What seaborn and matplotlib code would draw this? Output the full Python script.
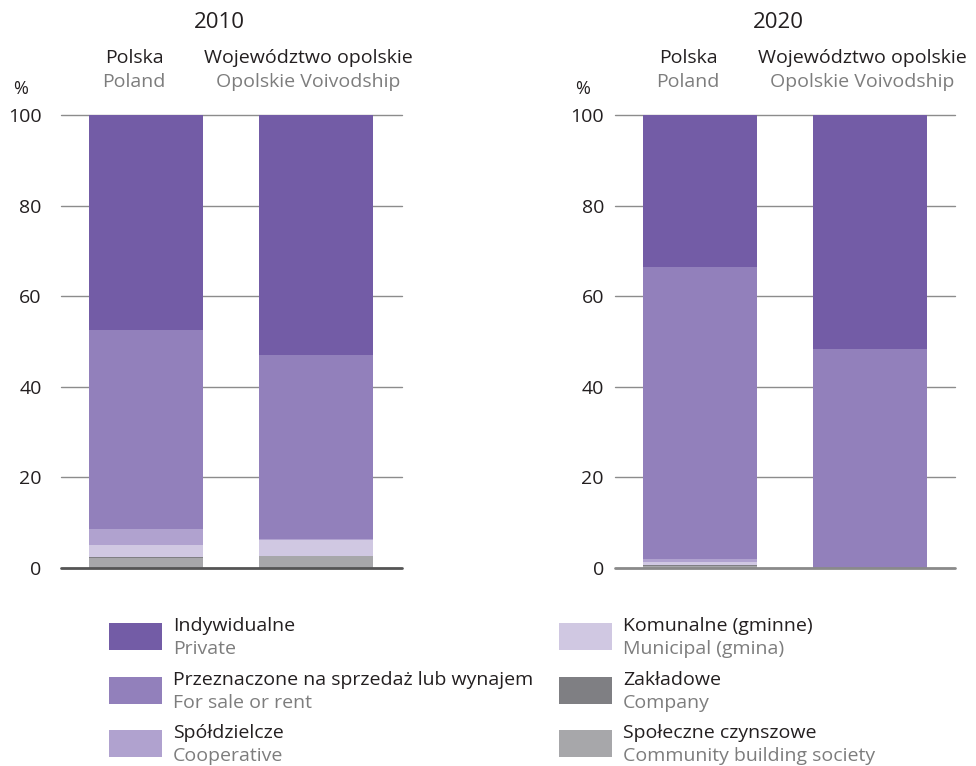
import matplotlib
matplotlib.use("Agg")
import matplotlib.pyplot as plt
import seaborn as sns
import pandas as pd
import numpy as np
from matplotlib.patches import Rectangle

# ---- data ----
years = ["2010", "2020"]
regions_pl = ["Polska", "Województwo opolskie"]
regions_en = ["Poland", "Opolskie Voivodship"]
# layers from bottom to top
layers_pl = ["Społeczne czynszowe", "Zakładowe", "Komunalne (gminne)", "Spółdzielcze",
             "Przeznaczone na sprzedaż lub wynajem", "Indywidualne"]
layers_en = ["Community building society", "Company", "Municipal (gmina)", "Cooperative",
             "For sale or rent", "Private"]
colors = ["#a7a7aa", "#7f7f83", "#d0c8e2", "#b0a2cf", "#9280bb", "#735ca6"]

community_2010 = [2.3, 2.7]
company_2010 = [0.2, 0.0]
municipal_2010 = [2.6, 3.4]
cooperative_2010 = [3.5, 0.3]
forsale_2010 = [43.9, 40.6]
private_2010 = [47.5, 53.0]

community_2020 = [0.4, 0.0]
company_2020 = [0.3, 0.0]
municipal_2020 = [0.6, 0.0]
cooperative_2020 = [0.6, 0.0]
forsale_2020 = [64.5, 48.3]
private_2020 = [33.6, 51.7]

data = {
    "2010": [community_2010, company_2010, municipal_2010, cooperative_2010, forsale_2010, private_2010],
    "2020": [community_2020, company_2020, municipal_2020, cooperative_2020, forsale_2020, private_2020],
}
yticks = [0, 20, 40, 60, 80, 100]

# ---- style ----
sns.set_theme(style="white")
plt.rcParams["font.family"] = ["Open Sans", "DejaVu Sans"]
FS = 14
BLACK = "#231f20"
GRAY = "#7d7d7d"

W, H = 976, 766
fig = plt.figure(figsize=(W / 100, H / 100), dpi=100)

def fx(px):
    return px / W

def fy(py):
    return 1 - py / H

panels = [("2010", 61, 402, 219), ("2020", 615, 955, 778)]
for year, x0, x1, title_x in panels:
    ax = fig.add_axes([fx(x0), fy(568), (x1 - x0) / W, 453 / H])
    vals = np.array(data[year])
    cum = np.cumsum(vals, axis=0)
    # draw from the top layer down so the lower layers overlay
    for i in range(len(layers_pl) - 1, -1, -1):
        df = pd.DataFrame({"region": regions_pl, "value": cum[i]})
        sns.barplot(data=df, x="region", y="value", color=colors[i], saturation=1,
                    width=0.67, errorbar=None, linewidth=0, ax=ax)
    ax.set_ylim(0, 100)
    ax.set_xlim(-0.5, 1.0 + (x1 - (x0 + 85 + 170)) / 170)
    for sp in ax.spines.values():
        sp.set_visible(False)
    ax.set_xlabel("")
    ax.set_ylabel("")
    ax.set_xticks([])
    ax.set_yticks(yticks)
    ax.set_yticklabels([str(t) for t in yticks], fontsize=FS, color=BLACK)
    ax.tick_params(axis="y", length=0, pad=14 if year == "2010" else 8)
    for t in yticks[1:]:
        ax.axhline(t, color="#8c8c8c", lw=1.0, zorder=0.5, clip_on=False)
    ax.axhline(0, color="#555555" if year == "2010" else "#8a8a8a", lw=2.0, zorder=5, clip_on=False)
    ax.set_facecolor("none")

    # headers
    fig.text(fx(title_x), fy(23), year, ha="center", va="center", fontsize=16, color=BLACK)
    centers = [x0 + 85, x0 + 255]
    for c, pl, en in zip(centers, regions_pl, regions_en):
        cx = c - 12 if pl == "Polska" else c - 8
        fig.text(fx(cx), fy(58), pl, ha="center", va="center", fontsize=FS, color=BLACK)
        fig.text(fx(cx), fy(82), en, ha="center", va="center", fontsize=FS, color=GRAY)
    fig.text(fx(x0 - 40 if year == "2010" else x0 - 32), fy(89), "%", ha="center", va="center",
             fontsize=FS - 1, color=BLACK)

# ---- legend ----
legend_order = [5, 4, 3, 2, 1, 0]
positions = [(109, 623), (109, 677), (109, 730), (559, 623), (559, 677), (559, 730)]
for idx, (lx, ly) in zip(legend_order, positions):
    fig.patches.append(Rectangle((fx(lx), fy(ly + 27)), 53 / W, 27 / H,
                                 transform=fig.transFigure, facecolor=colors[idx],
                                 edgecolor="none", figure=fig))
    fig.text(fx(lx + 64), fy(ly + 3), layers_pl[idx], ha="left", va="center",
             fontsize=FS, color=BLACK)
    fig.text(fx(lx + 64), fy(ly + 26), layers_en[idx], ha="left", va="center",
             fontsize=FS, color=GRAY)

fig.savefig("out.png", dpi=100)
